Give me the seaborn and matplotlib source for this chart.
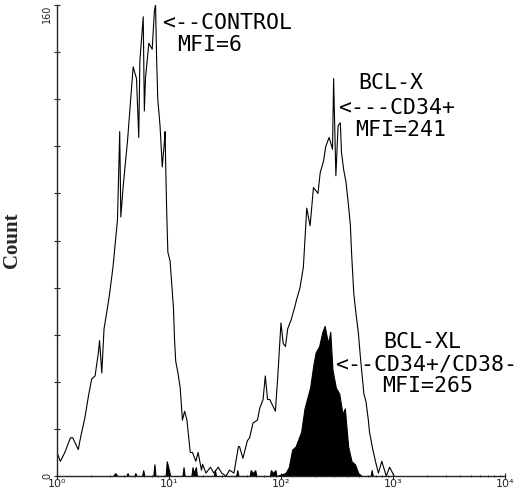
import numpy as np
import pandas as pd
import seaborn as sns
from matplotlib import pyplot as plt
from matplotlib.ticker import NullFormatter

# fluorescence channel positions (log10 decades) and counts
control_log = [0.00, 0.03, 0.07, 0.12, 0.14, 0.19, 0.21, 0.25, 0.28, 0.31, 0.34, 0.37,
               0.38, 0.40, 0.42, 0.45, 0.47, 0.50, 0.51, 0.54, 0.56, 0.57, 0.59, 0.63,
               0.65, 0.68, 0.71, 0.73, 0.74, 0.77, 0.78, 0.79, 0.82, 0.85, 0.87, 0.88,
               0.89, 0.90, 0.92, 0.94, 0.96, 0.965, 0.97, 0.98, 0.99, 1.01, 1.04, 1.05,
               1.06, 1.08, 1.10, 1.12, 1.14, 1.16, 1.19, 1.21, 1.24, 1.26, 1.29, 1.30,
               1.33, 1.37, 1.40, 1.44, 1.47, 1.51]
control_counts = [8, 5, 8, 13, 13, 9, 13, 20, 27, 33, 34, 42,
                  46, 35, 50, 57, 62, 71, 75, 87, 117, 88, 98, 114,
                  124, 139, 135, 115, 141, 156, 124, 135, 147, 145, 158, 160,
                  141, 128, 119, 105, 114, 117, 107, 89, 76, 73, 57, 46,
                  39, 35, 30, 19, 22, 19, 8, 8, 5, 8, 2, 4,
                  1, 3, 1, 3, 1, 0]

bclx_log = [1.51, 1.54, 1.58, 1.62, 1.63, 1.66, 1.70, 1.72, 1.75, 1.79, 1.81, 1.84,
            1.86, 1.88, 1.90, 1.95, 1.97, 2.00, 2.02, 2.04, 2.06, 2.09, 2.12, 2.14,
            2.17, 2.20, 2.23, 2.26, 2.29, 2.33, 2.35, 2.38, 2.40, 2.43, 2.46, 2.47,
            2.49, 2.51, 2.53, 2.54, 2.56, 2.58, 2.60, 2.62, 2.63, 2.65, 2.67, 2.69,
            2.71, 2.72, 2.74, 2.76, 2.78, 2.79, 2.82, 2.85, 2.87, 2.90, 2.94, 2.97, 3.01]
bclx_counts = [0, 2, 1, 10, 10, 6, 12, 13, 18, 19, 23, 26,
               34, 26, 26, 22, 33, 52, 45, 44, 50, 53, 57, 60,
               64, 71, 91, 85, 98, 96, 103, 107, 112, 115, 111, 135,
               102, 119, 120, 110, 104, 100, 93, 85, 76, 62, 55, 49,
               40, 36, 28, 25, 19, 15, 9, 4, 1, 5, 0, 3, 0]

bclxl_log = [0.50, 0.52, 0.54, 0.62, 0.63, 0.64, 0.69, 0.70, 0.71, 0.76, 0.77, 0.78,
             0.86, 0.87, 0.88, 0.97, 0.98, 1.00, 1.01, 1.12, 1.13, 1.14, 1.20, 1.21,
             1.22, 1.24, 1.25, 1.40, 1.41, 1.42, 1.60, 1.61, 1.62, 1.72, 1.73, 1.75,
             1.77, 1.78, 1.90, 1.91, 1.93, 1.95, 1.96, 2.04, 2.07, 2.10, 2.13, 2.18,
             2.21, 2.26, 2.29, 2.31, 2.34, 2.37, 2.39, 2.42, 2.44, 2.46, 2.49, 2.52,
             2.55, 2.57, 2.60, 2.63, 2.66, 2.69, 2.72, 2.80, 2.81, 2.82]
bclxl_counts = [0, 1, 0, 0, 1, 0, 0, 1, 0, 0, 2, 0,
                0, 4, 0, 0, 5, 2, 0, 0, 3, 0, 0, 3,
                1, 3, 0, 0, 2, 0, 0, 2, 0, 0, 2, 1,
                2, 0, 0, 2, 1, 2, 0, 1, 3, 9, 10, 15,
                23, 30, 38, 42, 44, 49, 51, 45, 49, 36, 30, 28,
                21, 23, 10, 5, 4, 1, 0, 0, 2, 0]

x_tick_exp = [0, 1, 2, 3, 4]
x_tick_labels = ["10\u2070", "10\u00b9", "10\u00b2", "10\u00b3", "10\u2074"]
y_ticks = list(range(0, 161, 16))

sns.set_style("ticks")
plt.rcParams['font.family'] = ['DejaVu Sans']

fig = plt.figure(figsize=(5.2, 4.91), dpi=100)
ax = fig.add_axes([0.1096, 0.0305, 0.8615, 0.9593])

control = pd.DataFrame({"fl": np.power(10.0, control_log), "count": control_counts})
bclx = pd.DataFrame({"fl": np.power(10.0, bclx_log), "count": bclx_counts})
bclxl = pd.DataFrame({"fl": np.power(10.0, bclxl_log), "count": bclxl_counts})

sns.lineplot(data=control, x="fl", y="count", ax=ax, color="black", lw=0.8,
             estimator=None)
sns.lineplot(data=bclx, x="fl", y="count", ax=ax, color="black", lw=0.8,
             estimator=None)
ax.fill_between(bclxl["fl"], bclxl["count"], color="black", lw=0.8)

ax.set_xscale("log")
ax.set_xlim(1, 1e4)
ax.set_ylim(0, 160)

ax.set_xticks([10.0 ** e for e in x_tick_exp])
ax.set_xticklabels(x_tick_labels, fontsize=8)
ax.xaxis.set_minor_formatter(NullFormatter())
ax.tick_params(axis="x", which="major", direction="inout", length=4, width=0.8, pad=0)
ax.tick_params(axis="x", which="minor", direction="inout", length=2, width=0.6)

ax.set_yticks(y_ticks)
ylabels = ax.set_yticklabels(["0"] + [""] * (len(y_ticks) - 2) + ["160"], rotation=90,
                             va="center", fontsize=7)
ylabels[-1].set_va("top")
ax.tick_params(axis="y", direction="inout", length=5, width=0.8, pad=1)

sns.despine(ax=ax)
ax.spines["left"].set_linewidth(1.0)
ax.spines["bottom"].set_linewidth(1.0)

ax.set_xlabel("")
ax.set_ylabel("Count", family="Liberation Serif", fontweight="bold", fontsize=15)
ax.yaxis.set_label_coords(-0.078, 0.5)

mono = dict(family="DejaVu Sans Mono", fontsize=15.5, color="black", va="center")
ax.text(8.66, 154, "<--CONTROL", **mono)
ax.text(11.8, 146.5, "MFI=6", **mono)
ax.text(487, 133.5, "BCL-X", **mono)
ax.text(323, 125, "<---CD34+", **mono)
ax.text(457, 117.5, "MFI=241", **mono)
ax.text(815, 45.5, "BCL-XL", **mono)
ax.text(303, 38, "<--CD34+/CD38-", **mono)
ax.text(797, 30.5, "MFI=265", **mono)

fig.savefig("out.png", dpi=100)
